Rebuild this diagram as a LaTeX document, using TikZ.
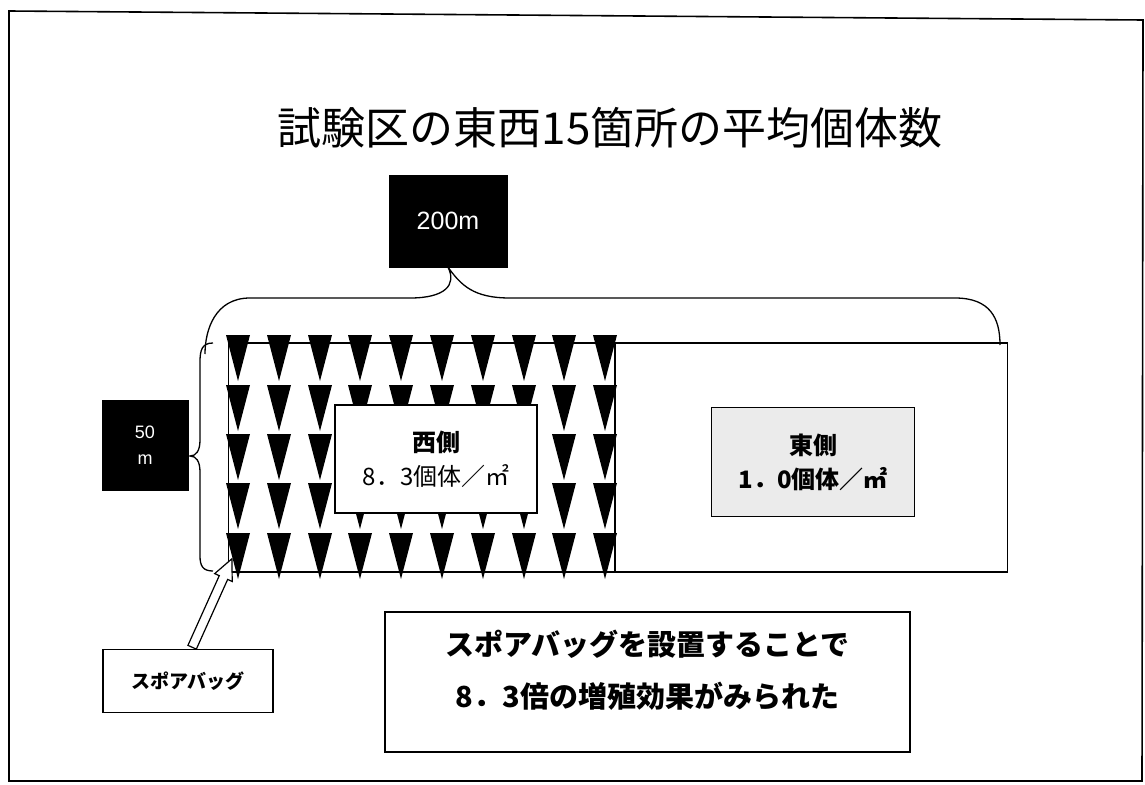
\documentclass[tikz,border=0pt]{standalone}
\usepackage{fontspec}
\setmainfont{Liberation Sans}
\newfontfamily\jp{Noto Sans CJK JP}
\usetikzlibrary{shapes.arrows}
\tikzset{
  frame/.style={draw=black, line width=1.6pt},
  blackbox/.style={fill=black, draw=black, text=white, align=center, inner sep=0pt},
  whitebox/.style={draw=black, line width=1.8pt, fill=white, align=center, inner sep=0pt},
  tri/.style={fill=black},
  bracepath/.style={draw=black, line width=1.3pt},
}
\begin{document}
\begin{tikzpicture}[x=1pt,y=-1pt]
\useasboundingbox (0,0) rectangle (1145,784);
% page frame
\draw[frame] (9,11) -- (1143,20) -- (1142,781) -- (9,781) -- cycle;
% title
\node[font=\jp\fontsize{44}{48}\selectfont] (title) at (610,128) {試験区の東西15箇所の平均個体数};
% 200m box
\node[blackbox, minimum width=118pt, minimum height=92pt, font=\fontsize{25}{28}\selectfont] (w200) at (448,221) {200m};
% top brace
\draw[bracepath] (205,354) .. controls (205,330) and (215,298) .. (250,298) -- (410,298)
  .. controls (445,298) and (457,285) .. (w200.south)
  .. controls (461,285) and (473,298) .. (510,298) -- (955,298)
  .. controls (990,298) and (1000,318) .. (1000,345);
% field
\node[draw=black, line width=1.6pt, minimum width=779pt, minimum height=229pt, inner sep=0pt] (field) at (618,457.5) {};
\coordinate (divtop) at (615,343);
\coordinate (divbot) at (615,572);
\draw[line width=1.6pt] (divtop) -- (divbot);
% triangles (spore bags)
\foreach \r in {335,385,434,483,533}{
  \foreach \c in {238,279,320,360,401,442,483,524,564,605}{
    \fill[tri] (\c-12,\r) -- (\c+12,\r) -- (\c,\r+46) -- cycle;
  }
}
% west box
\node[whitebox, minimum width=202pt, minimum height=108pt, font=\jp\fontsize{24}{34}\selectfont] (west) at (436,459) {{\bfseries 西側}\\8．3個体／㎡};
% east box
\node[whitebox, fill=gray!16, minimum width=203pt, minimum height=109pt, font=\jp\bfseries\fontsize{24}{34}\selectfont] (east) at (813,462) {東側\\1．0個体／㎡};
% 50 m box
\node[blackbox, minimum width=86pt, minimum height=90pt, font=\fontsize{18}{26}\selectfont] (w50) at (145,445) {50\\m};
% left brace
\draw[bracepath] (213,343) .. controls (202,343) and (200,350) .. (200,362) -- (200,440)
  .. controls (200,451) and (196,456) .. (190,456)
  .. controls (196,456) and (200,461) .. (200,472) -- (200,556)
  .. controls (200,566) and (203,571) .. (213,571);
% spore bag label
\node[whitebox, minimum width=170pt, minimum height=63pt, font=\jp\bfseries\fontsize{19}{22}\selectfont] (bag) at (188,681) {スポアバッグ};
\node[single arrow, draw=black, line width=1.2pt, fill=white, minimum height=97pt, inner sep=4pt,
  single arrow head extend=5pt, single arrow tip angle=50, rotate=65.8] (arr) at (210,607.5) {};
% result box
\node[whitebox, minimum width=525pt, minimum height=140pt] (result) at (647.5,682) {};
\node[align=center, inner sep=0pt, font=\jp\bfseries\fontsize{29}{52}\selectfont] (resulttext) at (647.5,670) {スポアバッグを設置することで\\8．3倍の増殖効果がみられた};
\end{tikzpicture}
\end{document}
